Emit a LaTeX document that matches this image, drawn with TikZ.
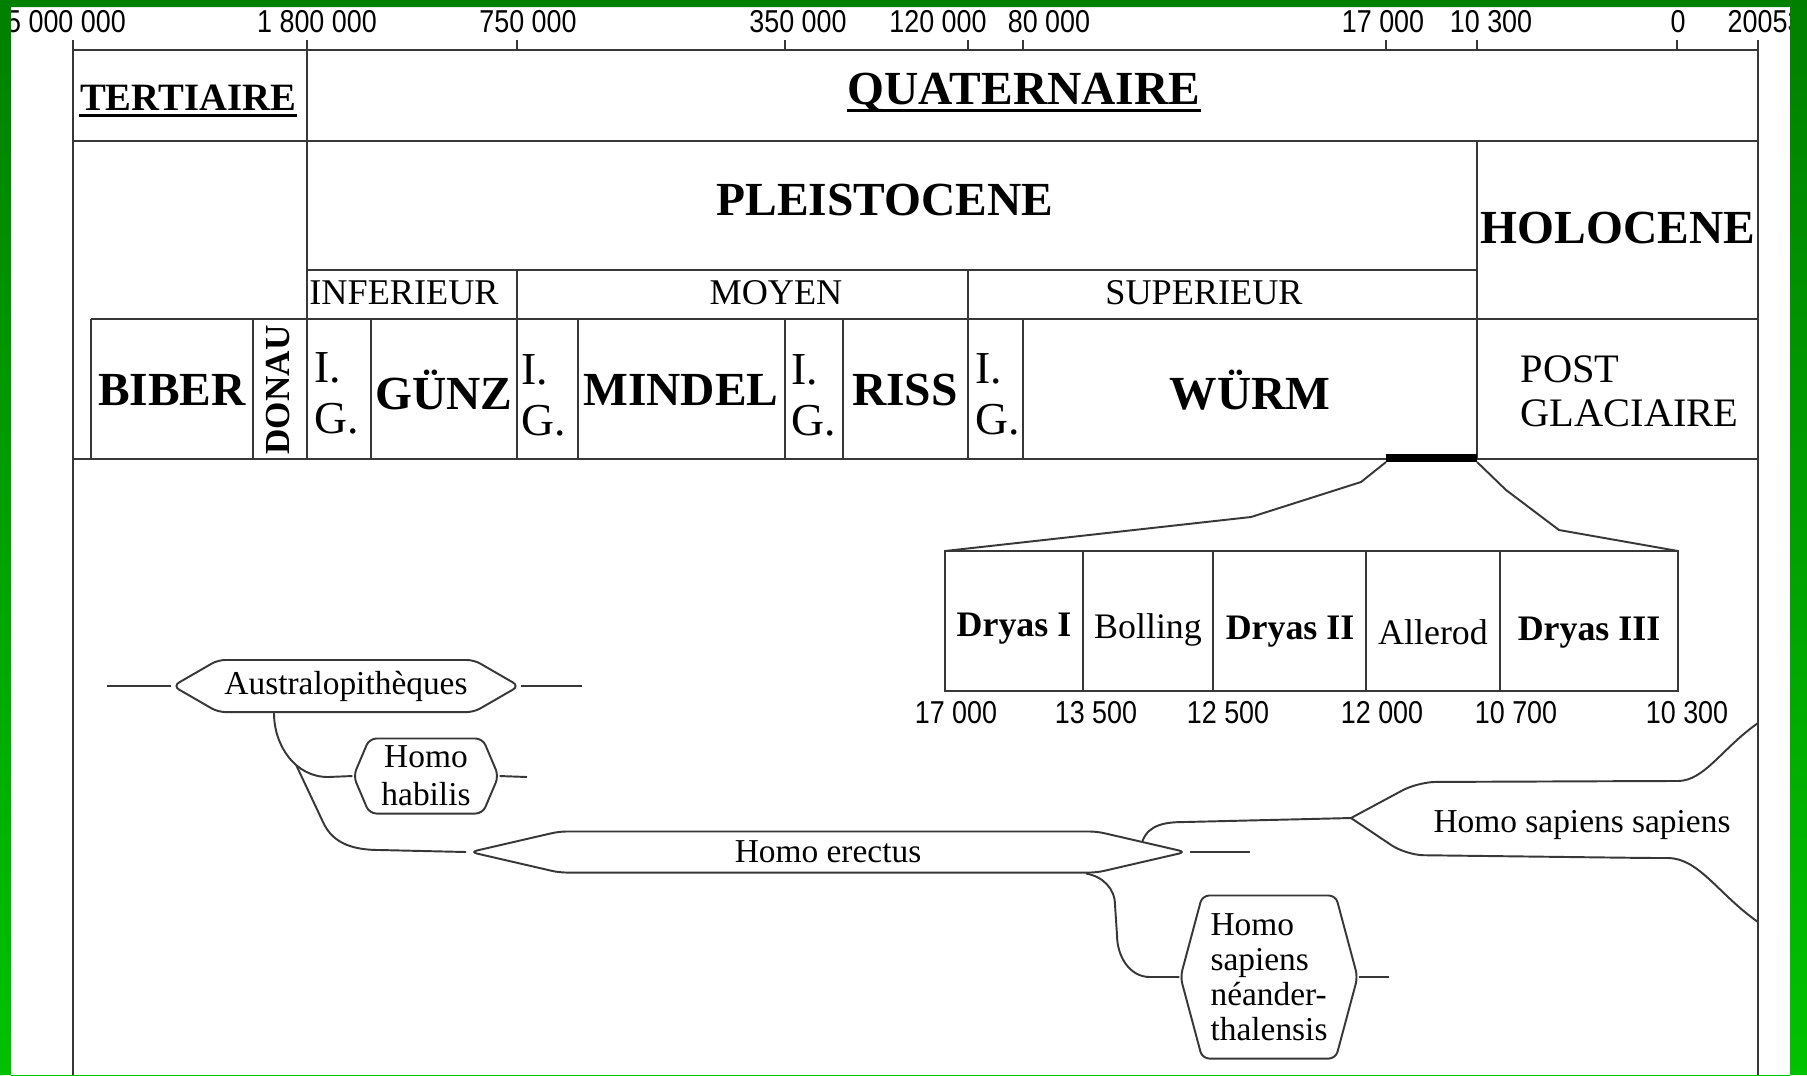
\documentclass[tikz,border=0pt]{standalone}
\usepackage{fontspec}
\setmainfont{Liberation Serif}
\newfontfamily\datefont[FakeStretch=0.85]{Liberation Sans}
\usetikzlibrary{shapes.symbols, calc}

\definecolor{frameleaf}{RGB}{0,128,0}
\definecolor{frameleaflight}{RGB}{0,195,0}
\definecolor{inkgray}{RGB}{55,55,55}

\tikzstyle{gridline} = [draw=inkgray, line width=0.8pt]
\tikzstyle{axistick} = [draw=inkgray, line width=0.7pt]
\tikzstyle{lineage} = [draw=inkgray, line width=0.55pt]
\tikzstyle{datelabel} = [inner sep=0pt, font=\datefont\fontsize{9}{10}\selectfont]
\tikzstyle{era} = [inner sep=0pt, font=\fontsize{13.5}{16}\selectfont\bfseries]
\tikzstyle{stagelabel} = [inner sep=0pt, font=\fontsize{10.3}{12}\selectfont]
\tikzstyle{glacial} = [inner sep=0pt, font=\fontsize{13.5}{16}\selectfont\bfseries]
\tikzstyle{interglacial} = [inner sep=0pt, anchor=west, align=left, font=\fontsize{13}{14.5}\selectfont]
\tikzstyle{phase} = [inner sep=0pt, font=\fontsize{10.2}{12}\selectfont]
\tikzstyle{phasebold} = [inner sep=0pt, font=\fontsize{10.2}{12}\selectfont\bfseries]
\tikzstyle{taxon} = [signal, signal to=west and east, draw=inkgray, line width=0.55pt, rounded corners=2pt, inner sep=0pt, align=center, font=\fontsize{9.5}{10.8}\selectfont]

\begin{document}
\begin{tikzpicture}[x=0.01cm, y=-0.01cm]
\useasboundingbox (0,0) rectangle (1807,1075);
\fill[white] (0,0) rectangle (1807,1075);

% time scale
\draw[gridline] (73,50) -- (1758,50);
\foreach \x in {73,307,517,785,968,1023,1386,1477,1677,1758}
  \draw[axistick] (\x,40) -- (\x,50);
\node[datelabel] (t5000000) at (66,22) {5 000 000};
\node[datelabel] (t1800000) at (317,22) {1 800 000};
\node[datelabel] (t750000) at (528,22) {750 000};
\node[datelabel] (t350000) at (798,22) {350 000};
\node[datelabel] (t120000) at (938,22) {120 000};
\node[datelabel] (t80000) at (1049,22) {80 000};
\node[datelabel] (t17000) at (1383,22) {17 000};
\node[datelabel] (t10300) at (1491,22) {10 300};
\node[datelabel] (t0) at (1678,22) {0};
\node[datelabel, anchor=west] (t2005) at (1727,22) {20053};

% table frame
\draw[gridline] (73,50) -- (73,1075);
\draw[gridline] (1758,50) -- (1758,1075);
\draw[gridline] (73,141) -- (1758,141);
\draw[gridline] (307,50) -- (307,459);
\draw[gridline] (1477,141) -- (1477,459);
\draw[gridline] (307,270) -- (1477,270);
\draw[gridline] (517,270) -- (517,319);
\draw[gridline] (968,270) -- (968,319);
\draw[gridline] (91,319) -- (1758,319);
\draw[gridline] (73,459) -- (1758,459);
\foreach \x in {91,253,371,517,578,785,843,968,1023}
  \draw[gridline] (\x,319) -- (\x,459);

% eras and epochs
\node[era, anchor=base, font=\fontsize{11}{13}\selectfont\bfseries] (tertiaire) at (188,110) {TERTIAIRE};
\node[era, anchor=base] (quaternaire) at (1024,104) {QUATERNAIRE};
\draw[line width=1pt] ([yshift=-1.5pt]tertiaire.base west) -- ([yshift=-1.5pt]tertiaire.base east);
\draw[line width=1pt] ([yshift=-1.8pt]quaternaire.base west) -- ([yshift=-1.8pt]quaternaire.base east);
\node[era] (pleistocene) at (885,200) {PLEISTOCENE};
\node[era] (holocene) at (1618,228) {HOLOCENE};
\node[stagelabel] (inferieur) at (404,293) {INFERIEUR};
\node[stagelabel] (moyen) at (776,293) {MOYEN};
\node[stagelabel] (superieur) at (1204,293) {SUPERIEUR};

% glaciations
\node[glacial] (biber) at (172,390) {BIBER};
\node[glacial, font=\fontsize{10}{12}\selectfont\bfseries, rotate=90] (donau) at (278,390) {DONAU};
\node[glacial] (gunz) at (444,390) {GÜNZ};
\node[glacial] (mindel) at (681,390) {MINDEL};
\node[glacial] (riss) at (905,390) {RISS};
\node[glacial] (wurm) at (1250,390) {WÜRM};
\node[interglacial] (ig1) at (314,393) {I.\\G.};
\node[interglacial] (ig2) at (521,395) {I.\\G.};
\node[interglacial] (ig3) at (791,395) {I.\\G.};
\node[interglacial] (ig4) at (975,394) {I.\\G.};
\node[interglacial, font=\fontsize{11.5}{12.5}\selectfont] (postglaciaire) at (1520,391) {POST\\GLACIAIRE};

% zoom on the end of the Wurm
\draw[black, line width=2.3pt] (1386,458) -- (1477,458);
\coordinate (zoomleft) at (1386,462);
\coordinate (zoomright) at (1477,462);
\draw[gridline] (945,551) rectangle (1678,691);
\foreach \x in {1083,1213,1366,1500}
  \draw[gridline] (\x,551) -- (\x,691);
\coordinate (dryasnw) at (945,551);
\coordinate (dryasne) at (1678,551);
\draw[lineage] (zoomleft) -- (1361,482) -- (1251,517) -- (dryasnw);
\draw[lineage] (zoomright) -- (1506,490) -- (1559,530) -- (dryasne);
\node[phasebold] (dryas1) at (1014,629) {Dryas I};
\node[phase] (bolling) at (1148,630) {Bolling};
\node[phasebold] (dryas2) at (1290,632) {Dryas II};
\node[phase] (allerod) at (1433,632) {Allerod};
\node[phasebold] (dryas3) at (1589,633) {Dryas III};
\node[datelabel] (z17000) at (956,713) {17 000};
\node[datelabel] (z13500) at (1096,713) {13 500};
\node[datelabel] (z12500) at (1228,713) {12 500};
\node[datelabel] (z12000) at (1382,713) {12 000};
\node[datelabel] (z10700) at (1516,713) {10 700};
\node[datelabel] (z10300) at (1687,713) {10 300};

% lineages
\node[taxon, minimum width=3.46cm, minimum height=0.52cm, signal pointer angle=60] (austr) at (346,686) {Australopithèques};
\node[taxon, minimum width=1.45cm, minimum height=0.75cm, signal pointer angle=134] (habilis) at (426,776) {Homo\\habilis};
\node[taxon, minimum width=7.15cm, minimum height=0.41cm, signal pointer angle=26] (erectus) at (828,852) {Homo erectus};
\node[taxon, minimum width=1.77cm, minimum height=1.63cm, signal pointer angle=150, align=left, font=\fontsize{9.5}{9.9}\selectfont] (neander) at (1269,977) {Homo\\sapiens\\néander-\\thalensis};
\node[inner sep=0pt, font=\fontsize{9.5}{10.8}\selectfont] (sapiens) at (1582,825) {Homo sapiens sapiens};
\coordinate (austrin) at (107,686);
\coordinate (austrout) at (582,686);
\coordinate (habilisout) at (527,777);
\coordinate (erectusout) at (1250,852);
\coordinate (neanderout) at (1389,977);
\coordinate (sapfork) at (1351,818);
\coordinate (sapup) at (1758,723);
\coordinate (sapdown) at (1758,922);
\draw[lineage] (austrin) -- (austr.west);
\draw[lineage] (austr.east) -- (austrout);
\draw[lineage] (habilis.east) -- (habilisout);
\draw[lineage] (erectus.east) -- (erectusout);
\draw[lineage] (neander.east) -- (neanderout);
\draw[lineage] ($(austr.south)+(-72,0)$) to[out=-90,in=180] coordinate[pos=0.62] (fork) (328,777) -- (habilis.west);
\draw[lineage] (fork) -- (323,822) to[out=-66,in=180] (380,850) -- (erectus.west);
\draw[lineage] (erectus.2) to[out=70,in=180] (1185,822) -- (sapfork);
\draw[lineage, rounded corners=5pt] (sapfork) -- (1418,782) -- (1660,781) to[out=0,in=215] (sapup);
\draw[lineage, rounded corners=5pt] (sapfork) -- (1406,855) -- (1650,858) to[out=0,in=145] (sapdown);
\draw[lineage] ($(erectus.south)+(258,0)$) to[out=-10,in=90] (1115,905) -- (1117,935) to[out=-90,in=180] (1150,977) -- (neander.west);

% green border
\shade[top color=frameleaf, bottom color=frameleaflight, even odd rule] (0,0) rectangle (1807,1075) (11,7) rectangle (1790,1090);
\end{tikzpicture}
\end{document}
